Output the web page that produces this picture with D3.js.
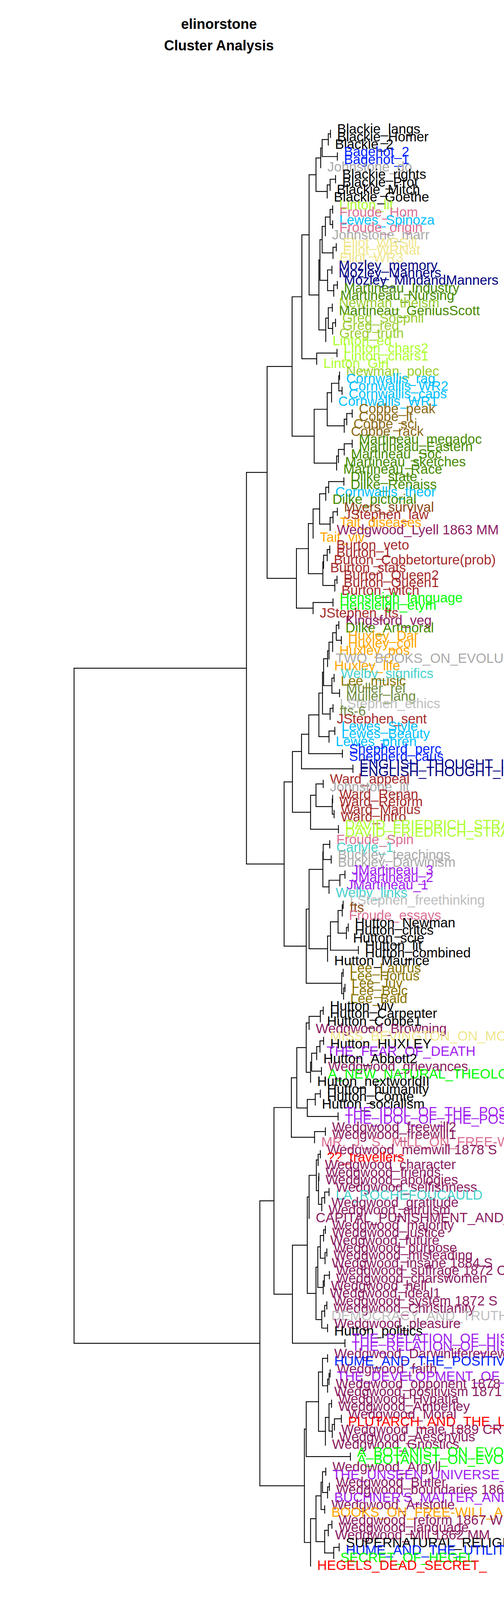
<!DOCTYPE html>
<html>
<head>
<meta charset="utf-8">
<script src="https://cdn.jsdelivr.net/npm/d3@7"></script>
<style>
  body { margin: 0; background: #fff; }
  text { font-family: "Liberation Sans", Arial, Helvetica, sans-serif; }
</style>
</head>
<body>
<div id="chart"></div>
<script>
// ---- leaf labels, top to bottom ----
const leafLabels = [
  "Blackie_langs", "Blackie_Homer", "Blackie_2", "Bagehot_2", "Bagehot_1",
  "Johnstone_do", "Blackie_rights", "Blackie_Prot", "Blackie_Mitch", "Blackie_Goethe",
  "Linton_lit", "Froude_Hom", "Lewes_Spinoza", "Froude_origin", "Johnstone_marr",
  "Eliot_WRSill", "Eliot_WRNat", "Eliot_WR3", "Mozley_memory", "Mozley_Manners",
  "Mozley_MindandManners", "Martineau_Industry", "Martineau_Nursing", "Newman_theism", "Martineau_GeniusScott",
  "Greg_Socphil", "Greg_red", "Greg_truth", "Linton_ed", "Linton_chars2",
  "Linton_chars1", "Linton_Girl", "Newman_polec", "Cornwallis_rag", "Cornwallis_WR2",
  "Cornwallis_caps", "Cornwallis_WR1", "Cobbe_peak", "Cobbe_lt", "Cobbe_sci",
  "Cobbe_rack", "Martineau_megadoc", "Martineau_Eastern", "Martineau_Soc", "Martineau_sketches",
  "Martineau_Race", "Dilke_state", "Dilke_Renaiss", "Cornwallis_theor", "Dilke_pictorial",
  "Myers_survival", "JStephen_law", "Tait_diseases", "Wedgwood_Lyell 1863 MM", "Tait_viv",
  "Burton_veto", "Burton_1", "Burton_Cobbetorture(prob)", "Burton_stats", "Burton_Queen2",
  "Burton_Queen1", "Burton_witch", "Hensleigh_language", "Hensleigh_etym", "JStephen_fts",
  "Kingsford_veg", "Dilke_Artmoral", "Huxley_Dar", "Huxley_coll", "Huxley_pos",
  "TWO_BOOKS_ON_EVOLUTION", "Huxley_life", "Welby_significs", "Lee_music", "Muller_rel",
  "Muller_lang", "LStephen_ethics", "fts-6", "JStephen_sent", "Lewes_Style",
  "Lewes_Beauty", "Lewes_phren", "Shepherd_perc", "Shepherd_caus", "ENGLISH_THOUGHT_IN_THE_18TH",
  "ENGLISH_THOUGHT_IN_THE_18TH", "Ward_appeal", "Johnstone_lit", "Ward_Renan", "Ward_Reform",
  "Ward_Marius", "Ward_intro", "DAVID_FRIEDRICH_STRAUSS", "DAVID_FRIEDRICH_STRAUSS", "Froude_Spin",
  "Carlyle_1", "Buckley_teachings", "Buckley_Darwinism", "JMartineau_3", "JMartineau_2",
  "JMartineau_1", "Welby_links", "LStephen_freethinking", "fts", "Froude_essays",
  "Hutton_Newman", "Hutton_critcs", "Hutton_scie", "Hutton_lit", "Hutton_combined",
  "Hutton_Maurice", "Lee_Laurus", "Lee_Hortus", "Lee_Juv", "Lee_Belc",
  "Lee_Bald", "Hutton_viv", "Hutton_Carpenter", "Hutton_Cobbe1", "Wedgwood_Browning",
  "MISS_BEVINGTON_ON_MODERN", "Hutton_HUXLEY", "THE_FEAR_OF_DEATH", "Hutton_Abbott2", "Wedgwood_grievances",
  "A_NEW_NATURAL_THEOLOGY", "Hutton_nextworldII", "Hutton_humanity", "Hutton_Comte", "Hutton_socialism",
  "THE_IDOL_OF_THE_POSITIVISTS", "THE_IDOL_OF_THE_POSITIVISTS", "Wedgwood_freewill2", "Wedgwood_freewill1", "MR._J._S._MILL_ON_FREE-WILL",
  "Wedgwood_memwill 1878 S", "??_travellers", "Wedgwood_character", "Wedgwood_friends", "Wedgwood_apologies",
  "Wedgwood_selfishness", "LA_ROCHEFOUCAULD", "Wedgwood_gratitude", "Wedgwood_altruism", "CAPITAL_PUNISHMENT_AND_",
  "Wedgwood_majority", "Wedgwood_justice", "Wedgwood_future", "Wedgwood_purpose", "Wedgwood_misleading",
  "Wedgwood_insane 1884 S", "Wedgwood_suffrage 1872 C", "Wedgwood_charswomen", "Wedgwood_hell", "Wedgwood_ideal1",
  "Wedgwood_system 1872 S", "Wedgwood_Christianity", "DEMOCRACY_AND_TRUTH", "Wedgwood_pleasure", "Hutton_politics",
  "THE_RELATION_OF_HISTORY", "THE_RELATION_OF_HISTORY", "Wedgwood_Darwinlifereview", "HUME_AND_THE_POSITIVISTS", "Wedgwood_faith",
  "THE_DEVELOPMENT_OF_THE", "Wedgwood_opponent 1878 S", "Wedgwood_positivism 1871 S", "Wedgwood_Hypatia", "Wedgwood_Amberley",
  "Wedgwood_Moral", "PLUTARCH_AND_THE_UNWRITTEN", "Wedgwood_male 1889 CR", "Wedgwood_Aeschylus", "Wedgwood_Gnostics",
  "A_BOTANIST_ON_EVOLUTION", "A_BOTANIST_ON_EVOLUTION", "Wedgwood_Argyll", "THE_UNSEEN_UNIVERSE_", "Wedgwood_Butler",
  "Wedgwood_boundaries 1866 S", "BUCHNER'S_MATTER_AND_FORCE", "Wedgwood_Aristotle", "BOOKS_ON_FREE-WILL_AND", "Wedgwood_reform 1867 W",
  "Wedgwood_language", "Wedgwood_Mill 1862 MM", "SUPERNATURAL_RELIGION", "HUME_AND_THE_UTILITARIANS", "SECRET_OF_HEGEL",
  "HEGELS_DEAD_SECRET_"
];

// ---- colour per class (text before the first underscore) ----
const classColors = [
  ["??", "#FF0000"], ["A", "#00FF00"], ["Bagehot", "#0022FF"], ["Blackie", "#000000"],
  ["BOOKS", "#FFA500"], ["BUCHNER'S", "#A020F0"], ["Buckley", "#A9A9A9"], ["Burton", "#A52A2A"],
  ["CAPITAL", "#8B1C62"], ["Carlyle", "#48D1CC"], ["Cobbe", "#8B6914"], ["Cornwallis", "#00BFFF"],
  ["DAVID", "#ADFF2F"], ["DEMOCRACY", "#BEBEBE"], ["Dilke", "#458B00"], ["Eliot", "#F0E68C"],
  ["ENGLISH", "#000080"], ["Froude", "#DB7093"], ["fts", "#8B4513"], ["fts-6", "#6E8B3D"],
  ["Greg", "#9ACD32"], ["HEGELS", "#FF0000"], ["Hensleigh", "#00FF00"], ["HUME", "#0022FF"],
  ["Hutton", "#000000"], ["Huxley", "#FFA500"], ["JMartineau", "#A020F0"], ["Johnstone", "#A9A9A9"],
  ["JStephen", "#A52A2A"], ["Kingsford", "#8B1C62"], ["LA", "#48D1CC"], ["Lee", "#8B7500"],
  ["Lewes", "#00BFFF"], ["Linton", "#ADFF2F"], ["LStephen", "#BEBEBE"], ["Martineau", "#458B00"],
  ["MISS", "#F0E68C"], ["Mozley", "#000080"], ["MR.", "#DB7093"], ["Muller", "#6E8B3D"],
  ["Myers", "#8B4513"], ["Newman", "#9ACD32"], ["PLUTARCH", "#FF0000"], ["SECRET", "#00FF00"],
  ["Shepherd", "#0022FF"], ["SUPERNATURAL", "#000000"], ["Tait", "#FFA500"], ["THE", "#A020F0"],
  ["TWO", "#A9A9A9"], ["Ward", "#A52A2A"], ["Wedgwood", "#8B1C62"], ["Welby", "#48D1CC"]
];

// ---- merge structure: (left,right):height; leaves are 1-based numbers into leafLabels ----
const treeBlackie = "(((((1,2):0.84,3):0.90,(4,5):0.65):1.07,6):1.11,(((7,8):0.70,9):0.85,10):0.93):1.24";
const treeEliot = "((((11,12):0.78,(13,14):0.78):0.85,15):0.98,((16,17):0.68,18):0.77):1.07";
const treeMozley = "((19,20):0.80,((21,22):0.65,23):0.75):0.92";
const treeGreg = "(((24,25):0.79,((26,27):0.70,28):0.78):0.90,29):0.97";
const treeLinton = "((30,31):0.66,32):1.22";
const treeCornwallis = "((((33,34):0.59,(35,36):0.52):0.61,37):0.81,(((38,39):0.24,40):0.39,41):0.46):0.93";
const treeMartineau = "((((42,43):0.24,44):0.46,45):0.62,46):0.67";
const treeDilke = "(((((47,48):0.47,49):0.89,50):0.97,(((51,52):0.65,53):0.77,54):0.85):1.14,55):1.32";
const treeBurton = "((((56,57):0.86,58):0.93,59):1.03,((60,61):0.66,62):0.72):1.05";
const treeHensleigh = "((63,64):0.77,65):1.32";
const treeHuxley = "((((((66,67):0.61,(68,69):0.54):0.68,70):0.78,71):0.88,72):0.92,((73,74):0.74,(75,76):0.59):0.80):1.03";
const treeLewes = "((" + treeHuxley + ",((77,78):0.77,79):0.85):1.06,((80,81):0.72,82):0.88):1.16";
const treeWard = "(((87,88):1.04,((89,90):0.78,(91,92):0.74):0.79):1.24,(93,94):0.62):1.39";
const treeBuckley = "(((95,96):0.86,(97,98):0.82):1.04,(((99,100):0.44,101):0.58,102):0.88):1.05";
const treeHutton = "(((((103,104):0.49,105):0.515,((106,107):0.35,108):0.40):0.63,(109,110):0.07):0.84,111):0.92";
const treeLee = "((112,113):0.49,((114,115):0.44,116):0.477):0.53";
const treeHuttonB = "((((117,118):1.04,119):1.12,120):1.43,(((((121,122):1.03,123):1.13,124):1.22,(125,126):1.09):1.36,127):1.39):1.51";
const treeComte = "(((128,129):1.12,130):1.26,(131,132):0.63):1.48";
const treeFreewill = "((133,134):0.98,135):1.28";
const treeWedgwoodA = "((((136,137):1.12,138):1.18,((139,140):1.16,(((141,142):0.88,143):1.00,144):1.08):1.17):1.23,145):1.43";
const treeWedgwoodB = "(((((146,147):0.98,148):1.03,((149,150):0.94,151):0.99):1.12,(((152,153):0.87,154):1.01,155):1.04):1.19,(((156,157):0.94,158):1.00,(159,160):0.92):1.08):1.24";
const treeWedgwoodC = "(((163,164):0.92,(((165,166):0.85,167):0.88,168):0.92):1.06,(((169,170):0.81,(((171,172):0.54,173):0.73,174):0.79):0.88,175):0.98):1.17";
const treeWedgwoodD = "((((178,179):0.97,((180,181):0.87,182):0.92):1.06,(183,184):1.00):1.10,(((185,186):0.80,187):0.90,((188,189):0.60,190):0.75):1.00):1.24";

const nodeUpperA = "(((" + treeBlackie + ",((" + treeEliot + "," + treeMozley + "):1.13," + treeGreg + "):1.16):1.43,"
  + treeLinton + "):1.63,(" + treeCornwallis + "," + treeMartineau + "):1.29):1.90";
const nodeLowerA = "((" + treeDilke + "," + treeBurton + "):1.45," + treeHensleigh + "):1.78";
const nodeUpperB = "(((" + treeLewes + ",(83,84):0.51):1.44,(85,86):0.22):1.64," + treeWard + "):1.89";
const nodeLowerB = "((" + treeBuckley + "," + treeHutton + "):1.43," + treeLee + "):1.51";
const groupA = "((" + nodeUpperA + "," + nodeLowerA + "):2.59,(" + nodeUpperB + "," + nodeLowerB + "):2.12):3.16";
const groupB = "((((" + treeHuttonB + "," + treeComte + "):1.77," + treeFreewill + "):1.92,"
  + "((" + treeWedgwoodA + "," + treeWedgwoodB + "):1.48,(161,162):0.44):1.89):2.40,"
  + "((" + treeWedgwoodC + ",(176,177):0.29):1.51,(" + treeWedgwoodD + ",191):1.39):1.56):2.79";
const rootHeight = 7.92;

const axisTicks = [8, 6, 4, 2, 0];
const titleLines = ["elinorstone", "Cluster Analysis"];
const subtitleLines = ["300 MFW  Culled @ 0%", "Classic Delta distance"];

// ---- parse the merge string into a nested object ----
function parseTree(str) {
  str = str.replace(/\s/g, "");
  let pos = 0;
  function readNumber() {
    let s = "";
    while (pos < str.length && /[0-9.]/.test(str[pos])) s += str[pos++];
    return +s;
  }
  function node() {
    if (str[pos] === "(") {
      pos++;
      const left = node();
      pos++; // ,
      const right = node();
      pos++; // )
      pos++; // :
      return { children: [left, right], height: readNumber() };
    }
    return { leaf: readNumber() };
  }
  return node();
}

const treeData = parseTree("(" + groupA + "," + groupB + "):" + rootHeight);
const root = d3.hierarchy(treeData);

const width = 1289, height = 4400;
const fontLeaf = 34.5;

const xScale = d3.scaleLinear().domain([8, 0]).range([182, 923]);
const yScale = d3.scaleLinear().domain([1, leafLabels.length]).range([333, 333 + (leafLabels.length - 1) * 19.35]);
const colorOf = new Map(classColors);

root.eachAfter(d => {
  if (d.children) {
    d.py = (d.children[0].py + d.children[1].py) / 2;
    d.px = xScale(d.data.height);
  } else {
    d.py = yScale(d.data.leaf);
  }
});

const svg = d3.select("#chart").append("svg")
  .attr("width", width)
  .attr("height", height)
  .style("display", "block");

svg.append("rect").attr("width", width).attr("height", height).attr("fill", "#fff");

// ---- branches ----
const branches = svg.append("g")
  .attr("stroke", "#000")
  .attr("stroke-width", 2.2)
  .attr("stroke-linecap", "round")
  .attr("fill", "none");

root.descendants().filter(d => d.children).forEach(d => {
  branches.append("line")
    .attr("x1", d.px).attr("x2", d.px)
    .attr("y1", d.children[0].py).attr("y2", d.children[1].py);
  d.children.filter(c => c.children).forEach(c => {
    branches.append("line")
      .attr("x1", d.px).attr("x2", c.px)
      .attr("y1", c.py).attr("y2", c.py);
  });
});

// ---- leaf labels ----
const labelOf = d => leafLabels[d.data.leaf - 1] || "";
svg.append("g")
  .selectAll("text")
  .data(root.leaves())
  .join("text")
  .attr("x", d => d.parent.px + 17)
  .attr("y", d => d.py + fontLeaf * 0.27)
  .attr("font-size", fontLeaf)
  .style("white-space", "pre")
  .attr("fill", d => colorOf.get(labelOf(d).split("_")[0]) || "#000")
  .text(labelOf);

// ---- distance axis ----
const axisY = 4185;
const axis = svg.append("g").attr("transform", `translate(0,${axisY})`)
  .call(d3.axisBottom(xScale).tickValues(axisTicks).tickSize(22).tickPadding(20).tickFormat(d3.format("d")));
axis.select(".domain").attr("stroke-width", 2.2).attr("d", `M${xScale(8)},0H${xScale(0)}`);
axis.selectAll(".tick line").attr("stroke-width", 1.3);
axis.selectAll(".tick text")
  .attr("font-size", 35)
  .attr("font-family", "'Liberation Sans', Arial, sans-serif")
  .attr("fill", "#000");

// ---- title and subtitle ----
svg.append("g").selectAll("text")
  .data(titleLines)
  .join("text")
  .attr("x", 560)
  .attr("y", (d, i) => 74 + i * 55)
  .attr("text-anchor", "middle")
  .attr("font-size", 36)
  .attr("font-weight", "bold")
  .text(d => d);

svg.append("g").selectAll("text")
  .data(subtitleLines)
  .join("text")
  .attr("x", 560)
  .attr("y", (d, i) => 4347 + i * 40)
  .attr("text-anchor", "middle")
  .attr("font-size", 33)
  .style("white-space", "pre")
  .text(d => d);
</script>
</body>
</html>
